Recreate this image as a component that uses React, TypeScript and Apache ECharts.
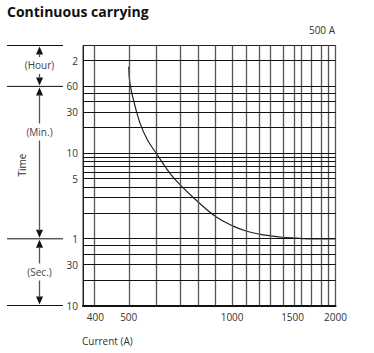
import React, { useEffect, useRef } from 'react';
import * as echarts from 'echarts';

// Curve (current in A, time in seconds)
const currentA = [500, 504, 516, 539, 566, 600, 673, 804, 899, 1004, 1098, 1200, 1297, 1401, 1532, 1600, 1700, 2000];
const timeSec = [6100, 3940, 2520, 1350, 863, 605, 315, 156, 108, 85, 74, 68, 65, 62.6, 61.0, 60.4, 60, 60];

// Axis ranges
const xRange = [368, 2000];
const yRange = [10, 10800];

// Grid lines
const gridCurrents = [400, 500, 600, 700, 800, 900, 1000, 1100, 1200, 1300, 1400, 1500, 1600, 1700, 1800, 1900, 2000];
const gridTimes = [7200, 3600, 3000, 2400, 1800, 1200, 600, 540, 480, 420, 360, 300, 240, 180, 120, 60, 50, 40, 30, 20, 10];

// Tick labels
const xTickValues = [400, 500, 1000, 1500, 2000];
const yTickValues = [7200, 3600, 1800, 600, 300, 60, 30, 10];
const yTickLabels = ['2', '60', '30', '10', '5', '1', '30', '10'];

// Time brackets (section boundaries in seconds) and labels
const bracketTimes = [10800, 3600, 60, 10];
const sectionLabels = ['(Hour)', '(Min.)', '(Sec.)'];

const FONT = "'Open Sans', 'Noto Sans', sans-serif";

export default function App() {
  const ref = useRef<HTMLDivElement>(null);
  useEffect(() => {
    const chart = echarts.init(ref.current!, null, { renderer: 'svg' });
    const lg = Math.log10;
    const option: any = {
      animation: false,
      grid: {
        left: 83, right: 38.5, top: 45.5, bottom: 47.5,
        show: true, borderColor: '#222', borderWidth: 1,
        containLabel: false, outerBoundsMode: 'none',
      },
      xAxis: {
        type: 'value', min: lg(xRange[0]), max: lg(xRange[1]),
        splitLine: { show: false }, axisTick: { show: false },
        axisLine: { show: true, lineStyle: { color: '#111', width: 2 } },
        axisLabel: {
          customValues: xTickValues.map(lg),
          formatter: (v: number) => String(Math.round(Math.pow(10, v))),
          color: '#333', fontSize: 10, fontFamily: FONT, margin: 6,
        },
      },
      yAxis: {
        type: 'value', min: lg(yRange[0]), max: lg(yRange[1]),
        splitLine: { show: false }, axisTick: { show: false },
        axisLine: { show: true, lineStyle: { color: '#222', width: 1 } },
        axisLabel: {
          customValues: yTickValues.map(lg),
          formatter: (v: number) => {
            let best = 0;
            let d = Infinity;
            yTickValues.forEach((t, i) => {
              const dd = Math.abs(lg(t) - v);
              if (dd < d) { d = dd; best = i; }
            });
            return yTickLabels[best];
          },
          color: '#333', fontSize: 10, fontFamily: FONT, margin: 5,
        },
      },
      series: [
        {
          type: 'line', data: [], z: 1, silent: true,
          markLine: {
            silent: true, symbol: ['none', 'none'], label: { show: false }, animation: false,
            emphasis: { disabled: true },
            data: [
              ...gridCurrents.map((c) => ({ xAxis: lg(c), lineStyle: { color: '#555', width: 1.3, type: 'solid' } })),
              ...gridTimes.map((t) => ({ yAxis: lg(t), lineStyle: { color: '#111', width: 1, type: 'solid' } })),
            ],
          },
        },
        {
          type: 'line', z: 3,
          data: currentA.map((c, i) => [lg(c), lg(timeSec[i])]),
          showSymbol: false, symbol: 'none', smooth: 0.4,
          lineStyle: { color: '#222', width: 1.2 },
        },
      ],
    };
    chart.setOption(option);

    const yPix = bracketTimes.map((t) => chart.convertToPixel({ yAxisIndex: 0 }, lg(t)) as number);
    const ax = 39.5;
    const labelY = [65, 131.5, 271.5];
    const els: any[] = [
      { type: 'text', x: 7, y: 4, style: { text: 'Continuous carrying', font: `bold 14px ${FONT}`, fill: '#111' } },
      { type: 'text', x: 335, y: 30, style: { text: '500 A', textAlign: 'right', textVerticalAlign: 'middle', verticalAlign: 'middle', font: `10px ${FONT}`, fill: '#333' } },
      { type: 'text', x: 82, y: 341, style: { text: 'Current (A)', textAlign: 'left', textVerticalAlign: 'middle', verticalAlign: 'middle', font: `10px ${FONT}`, fill: '#333' } },
      { type: 'text', x: 22, y: 165, rotation: Math.PI / 2, style: { text: 'Time', textAlign: 'center', textVerticalAlign: 'middle', verticalAlign: 'middle', font: `10px ${FONT}`, fill: '#333' } },
    ];
    yPix.forEach((y) => {
      els.push({ type: 'line', shape: { x1: 7, y1: y, x2: 63, y2: y }, style: { stroke: '#111', lineWidth: 1 } });
    });
    for (let s = 0; s < 3; s++) {
      const a = yPix[s];
      const b = yPix[s + 1];
      const ly = labelY[s];
      els.push({ type: 'polygon', shape: { points: [[ax, a + 1], [ax - 3.5, a + 9], [ax + 3.5, a + 9]] }, style: { fill: '#111' } });
      els.push({ type: 'polygon', shape: { points: [[ax, b - 1], [ax - 3.5, b - 9], [ax + 3.5, b - 9]] }, style: { fill: '#111' } });
      els.push({ type: 'line', shape: { x1: ax, y1: a + 8, x2: ax, y2: ly - 8 }, style: { stroke: '#555', lineWidth: 1.3 } });
      els.push({ type: 'line', shape: { x1: ax, y1: ly + 9, x2: ax, y2: b - 8 }, style: { stroke: '#555', lineWidth: 1.3 } });
      els.push({ type: 'text', x: ax, y: ly, style: { text: sectionLabels[s], textAlign: 'center', textVerticalAlign: 'middle', verticalAlign: 'middle', font: `10px ${FONT}`, fill: '#444' } });
    }
    chart.setOption({ graphic: { elements: els } });

    return () => chart.dispose();
  }, []);
  return <div ref={ref} style={{ position: 'absolute', left: 0, top: 0, width: 374, height: 353 }} />;
}
